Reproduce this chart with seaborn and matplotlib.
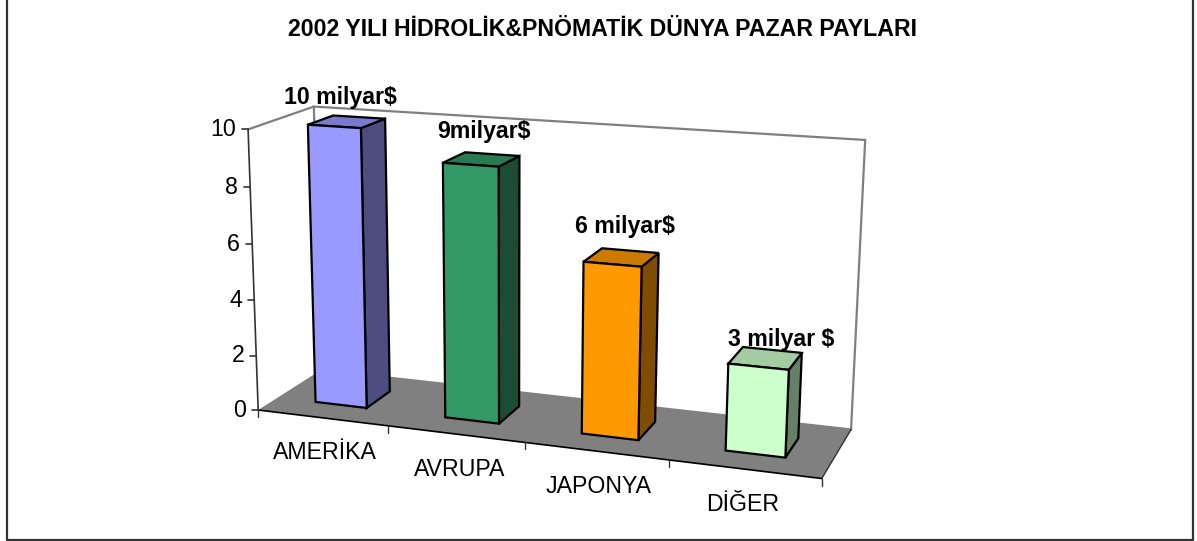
"""2002 hydraulic & pneumatic world market shares, drawn as an Excel style 3D column chart."""

import matplotlib

matplotlib.use("Agg")
import matplotlib.pyplot as plt  # noqa: E402
import numpy as np  # noqa: E402
import pandas as pd  # noqa: E402
import seaborn as sns  # noqa: E402
from matplotlib.colors import to_rgb  # noqa: E402
from matplotlib.patches import Polygon  # noqa: E402
from matplotlib.transforms import Transform  # noqa: E402

# ── Data ──────────────────────────────────────────────────────────────────────
TITLE = "2002 YILI HİDROLİK&PNÖMATİK DÜNYA PAZAR PAYLARI"
categories = ["AMERİKA", "AVRUPA", "JAPONYA", "DİĞER"]
values = [10, 9, 6, 3]
bar_labels = ["10 milyar$", "9milyar$", "6 milyar$", "3 milyar $"]
y_ticks = [0, 2, 4, 6, 8, 10]
colors = ["#9999FF", "#339966", "#FF9900", "#CCFFCC"]

# ── Layout ────────────────────────────────────────────────────────────────────
W, H = 1197, 541
BAR_W = 0.4
DEPTH_FRONT, DEPTH_BACK = 0.3, 0.7
X0, X1, Z1 = -0.5, 3.5, 10
FONT_SIZE = 16.7
LABEL_OFFSETS = [(-19, -20), (-8, -23), (-5, -24), (9, -10)]
CATEGORY_NUDGE = [3, 4, 2, -2]

# box corners (x, depth, z) -> pixel, used to fit the camera
CALIB = [
    ((X0, 0, 0), (259, 409)),
    ((X1, 0, 0), (822, 479)),
    ((X1, 1, 0), (851, 429)),
    ((X0, 1, 0), (320, 371)),
    ((X0, 0, Z1), (247, 130)),
    ((X0, 1, Z1), (315, 106)),
    ((X1, 1, Z1), (865, 140)),
]


def fit_camera(calib):
    """Least squares 3x4 projection matrix from 3D box corners to pixels."""
    rows = []
    for (x, y, z), (u, v) in calib:
        rows.append([x, y, z, 1, 0, 0, 0, 0, -u * x, -u * y, -u * z, -u])
        rows.append([0, 0, 0, 0, x, y, z, 1, -v * x, -v * y, -v * z, -v])
    _, _, vt = np.linalg.svd(np.array(rows, dtype=float))
    return vt[-1].reshape(3, 4)


CAM = fit_camera(CALIB)


def project(x, y, z):
    p = CAM @ np.array([x, y, z, 1.0])
    return p[:2] / p[2]


class PlaneTransform(Transform):
    """Maps (x, value) of a seaborn bar onto the plane at a fixed depth."""

    input_dims = 2
    output_dims = 2
    is_separable = False
    has_inverse = False

    def __init__(self, plane_depth):
        super().__init__()
        self.plane_depth = plane_depth

    def transform_non_affine(self, values):
        pts = np.asarray(values, dtype=float)
        full = np.column_stack(
            [pts[:, 0], np.full(len(pts), self.plane_depth), pts[:, 1], np.ones(len(pts))]
        )
        out = full @ CAM.T
        return out[:, :2] / out[:, 2:3]


def shade(color, factor):
    return tuple(c * factor for c in to_rgb(color))


# ── Figure ────────────────────────────────────────────────────────────────────
sns.set_theme(style="white")
plt.rcParams["font.family"] = ["Liberation Sans", "DejaVu Sans"]

fig = plt.figure(figsize=(W / 100, H / 100), dpi=100, facecolor="white")
ax = fig.add_axes([0, 0, 1, 1])

df = pd.DataFrame({"region": categories, "value": values})
sns.barplot(
    data=df,
    x="region",
    y="value",
    hue="region",
    palette=colors,
    order=categories,
    hue_order=categories,
    width=BAR_W,
    saturation=1,
    errorbar=None,
    legend=False,
    edgecolor="black",
    linewidth=1.6,
    ax=ax,
)
bars = list(ax.patches)
ax.set_xlim(0, W)
ax.set_ylim(H, 0)
ax.set_axis_off()

# outer chart frame, open at the top of the picture
ax.plot([7, 7, 1193, 1193], [-5, 540, 540, -5], color="#333333", lw=1.6, zorder=1)

# back wall and floor
GRAY = "#808080"
wall = [project(X0, 1, 0), project(X1, 1, 0), project(X1, 1, Z1), project(X0, 1, Z1)]
ax.add_patch(Polygon(wall, closed=True, fc="white", ec=GRAY, lw=1.6, zorder=1.1))
floor = [project(X0, 0, 0), project(X1, 0, 0), project(X1, 1, 0), project(X0, 1, 0)]
ax.add_patch(Polygon(floor, closed=True, fc=GRAY, ec="none", zorder=1.2))
top_edge = np.array([project(X0, 0, Z1), project(X0, 1, Z1)])
ax.plot(*top_edge.T, color=GRAY, lw=1.6, zorder=1.3)
right_edge = np.array([project(X1, 0, 0), project(X1, 1, 0)])
ax.plot(*right_edge.T, color="#333333", lw=1.0, zorder=1.3)
front_edge = np.array([project(X0, 0, 0), project(X1, 0, 0)])
ax.plot(*front_edge.T, color="black", lw=1.2, zorder=1.3)

# value axis
axis_line = np.array([project(X0, 0, 0), project(X0, 0, Z1)])
ax.plot(*axis_line.T, color="#333333", lw=1.2, zorder=1.3)
for t in y_ticks:
    px, py = project(X0, 0, t)
    ax.plot([px - 6, px], [py, py], color="#333333", lw=1.2, zorder=1.3)
    ax.text(px - 12, py, str(t), ha="right", va="center", fontsize=FONT_SIZE, color="black")

# category ticks and labels
for edge in np.arange(X0, X1 + 0.5):
    px, py = project(edge, 0, 0)
    ax.plot([px, px], [py, py + 7], color="#333333", lw=1.0, zorder=1.3)
for i, name in enumerate(categories):
    px, py = project(i, 0, 0)
    ax.text(
        px + CATEGORY_NUDGE[i], py + 35, name, ha="center", va="center",
        fontsize=FONT_SIZE, color="black",
    )

# turn the flat seaborn bars into 3D columns
front = PlaneTransform(DEPTH_FRONT)
for bar, color, label, (ox, oy) in zip(bars, colors, bar_labels, LABEL_OFFSETS):
    x0, x1, z = bar.get_x(), bar.get_x() + bar.get_width(), bar.get_height()
    bar.set_transform(front + ax.transData)
    bar.set_zorder(3)
    side = [
        project(x1, DEPTH_FRONT, 0),
        project(x1, DEPTH_BACK, 0),
        project(x1, DEPTH_BACK, z),
        project(x1, DEPTH_FRONT, z),
    ]
    top = [
        project(x0, DEPTH_FRONT, z),
        project(x1, DEPTH_FRONT, z),
        project(x1, DEPTH_BACK, z),
        project(x0, DEPTH_BACK, z),
    ]
    for face, factor in ((side, 0.5), (top, 0.8)):
        ax.add_patch(
            Polygon(face, closed=True, fc=shade(color, factor), ec="black", lw=1.6, zorder=2.5)
        )
    px, py = project((x0 + x1) / 2, DEPTH_BACK, z)
    ax.text(
        px + ox, py + oy, label, ha="center", va="center",
        fontsize=FONT_SIZE, fontweight="bold", color="black", zorder=5,
    )

ax.text(602, 29, TITLE, ha="center", va="center", fontsize=FONT_SIZE, fontweight="bold", color="black")

fig.savefig("out.png", dpi=100, facecolor="white")
plt.close(fig)
